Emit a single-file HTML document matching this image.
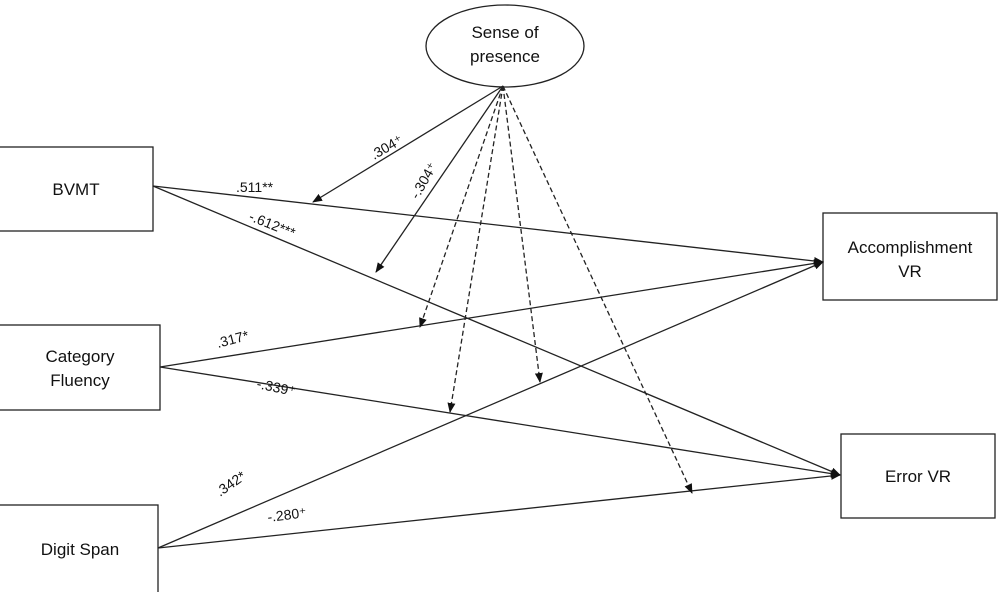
<!DOCTYPE html>
<html><head><style>body{margin:0;background:#fff}svg{display:block}text{font-family:"Liberation Sans",sans-serif;fill:#111}</style></head><body>
<svg width="1000" height="592" viewBox="0 0 1000 592">
<defs><marker id="a" markerWidth="10" markerHeight="8" refX="9" refY="4" orient="auto" markerUnits="userSpaceOnUse"><path d="M0,0 L10,4 L0,8z" fill="#111"/></marker></defs>
<g stroke="#222" stroke-width="1.3" fill="none">
<ellipse cx="505" cy="46" rx="79" ry="41" fill="#fff"/>
<rect x="-1" y="147" width="154" height="84"/>
<rect x="-1" y="325" width="161" height="85"/>
<rect x="-1" y="505" width="159" height="90"/>
<rect x="823" y="213" width="174" height="87"/>
<rect x="841" y="434" width="154" height="84"/>
<line x1="153" y1="186" x2="823" y2="262" marker-end="url(#a)"/>
<line x1="153" y1="186" x2="840" y2="475" marker-end="url(#a)"/>
<line x1="160" y1="367" x2="823" y2="262" marker-end="url(#a)"/>
<line x1="160" y1="367" x2="840" y2="475" marker-end="url(#a)"/>
<line x1="158" y1="548" x2="823" y2="262" marker-end="url(#a)"/>
<line x1="158" y1="548" x2="840" y2="475" marker-end="url(#a)"/>
<line x1="503" y1="86" x2="313" y2="202" marker-end="url(#a)"/>
<line x1="503" y1="86" x2="376" y2="272" marker-end="url(#a)"/>
<g stroke-dasharray="5,3">
<line x1="503" y1="86" x2="420" y2="327" marker-end="url(#a)"/>
<line x1="503" y1="86" x2="450" y2="412" marker-end="url(#a)"/>
<line x1="503" y1="86" x2="540" y2="382" marker-end="url(#a)"/>
<line x1="503" y1="86" x2="692" y2="493" marker-end="url(#a)"/>
</g></g>
<g font-size="17" text-anchor="middle">
<text x="505" y="38">Sense of</text><text x="505" y="62">presence</text>
<text x="76" y="195">BVMT</text>
<text x="80" y="362">Category</text><text x="80" y="386">Fluency</text>
<text x="80" y="555">Digit Span</text>
<text x="910" y="253">Accomplishment</text><text x="910" y="277">VR</text>
<text x="918" y="482">Error VR</text>
</g>
<g font-size="14">
<text transform="translate(374,160) rotate(-30)">.304⁺</text>
<text transform="translate(418,200) rotate(-60)">-.304⁺</text>
<text x="236" y="192">.511**</text>
<text transform="translate(248,220) rotate(22)">-.612***</text>
<text transform="translate(218,348) rotate(-15)">.317*</text>
<text transform="translate(256,388) rotate(12)">-.339⁺</text>
<text transform="translate(220,497) rotate(-35)">.342*</text>
<text transform="translate(268,522) rotate(-7)">-.280⁺</text>
</g>
</svg>
</body></html>
